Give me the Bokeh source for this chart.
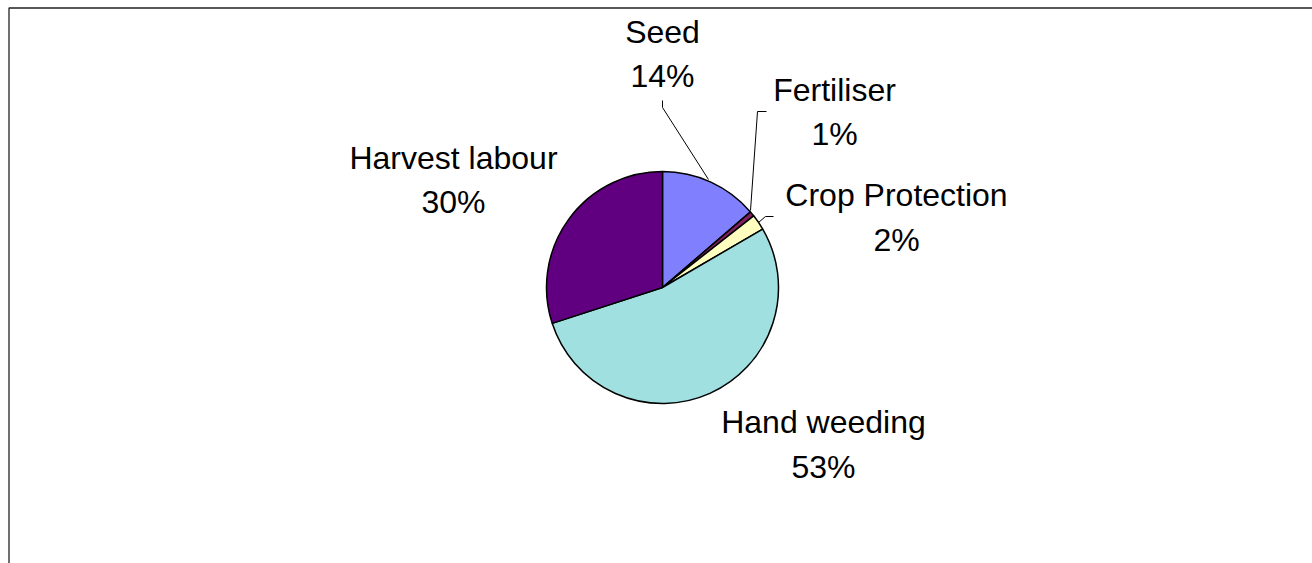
import math
from bokeh.plotting import figure
from bokeh.models import Range1d
from bokeh.core.properties import value
from bokeh.embed import file_html
from bokeh.resources import INLINE

# ---- data ----
categories = ["Seed", "Fertiliser", "Crop Protection", "Hand weeding", "Harvest labour"]
shares = [13.7, 0.7, 2.2, 53.4, 30.0]
colors = ["#8080FF", "#802060", "#FFFFC0", "#A0E0E0", "#600080"]

# ---- layout (pixel space of the page, y measured from top) ----
W, H = 1312, 563
CX, CY, R = 662, 287, 116
# label anchor: (center x, y of name, y of percent)
label_pos = [(662, 31, 75), (834, 89, 133), (896, 194, 239), (823, 421, 466), (453, 157, 201)]
leaders = [
    [(662, 100), (662, 107), (708, 179)],
    [(766, 111), (757, 111), (750, 210)],
    [(773, 216), (765, 216), (758, 222)],
]
BORDER_X, BORDER_Y = 8.5, 7.5

def fy(y):
    return H - y

p = figure(width=W, height=H, output_backend="svg", toolbar_location=None,
           x_range=Range1d(0, W), y_range=Range1d(0, H),
           x_axis_location=None, y_axis_location=None, min_border=0,
           outline_line_color=None, background_fill_color="white",
           border_fill_color="white")
p.grid.visible = False

total = sum(shares)
cum = 0.0
starts, ends = [], []
for s in shares:
    starts.append(math.pi / 2 - 2 * math.pi * cum / total)
    cum += s
    ends.append(math.pi / 2 - 2 * math.pi * cum / total)

p.wedge(x=[CX] * len(shares), y=[fy(CY)] * len(shares), radius=R,
        start_angle=starts, end_angle=ends, direction="clock",
        fill_color=colors, line_color="black", line_width=1.5)

for pts in leaders:
    p.line([q[0] for q in pts], [fy(q[1]) for q in pts], line_color="black", line_width=1)

names_x = [lp[0] for lp in label_pos]
p.text(x=names_x, y=[fy(lp[1]) for lp in label_pos], text=categories,
       text_align="center", text_baseline="alphabetic",
       text_font=value("Liberation Sans"), text_font_size="32px", text_color="black")
pct = ["%d%%" % round(100 * s / total) for s in shares]
p.text(x=names_x, y=[fy(lp[2]) for lp in label_pos], text=pct,
       text_align="center", text_baseline="alphabetic",
       text_font=value("Liberation Sans"), text_font_size="32px", text_color="black")

# chart-area border (only its left and top edges fall inside the window)
p.line([BORDER_X, BORDER_X, W + 5], [-5, fy(BORDER_Y), fy(BORDER_Y)],
       line_color="#222222", line_width=1.3)

open("out.html", "w").write(file_html(p, INLINE))
